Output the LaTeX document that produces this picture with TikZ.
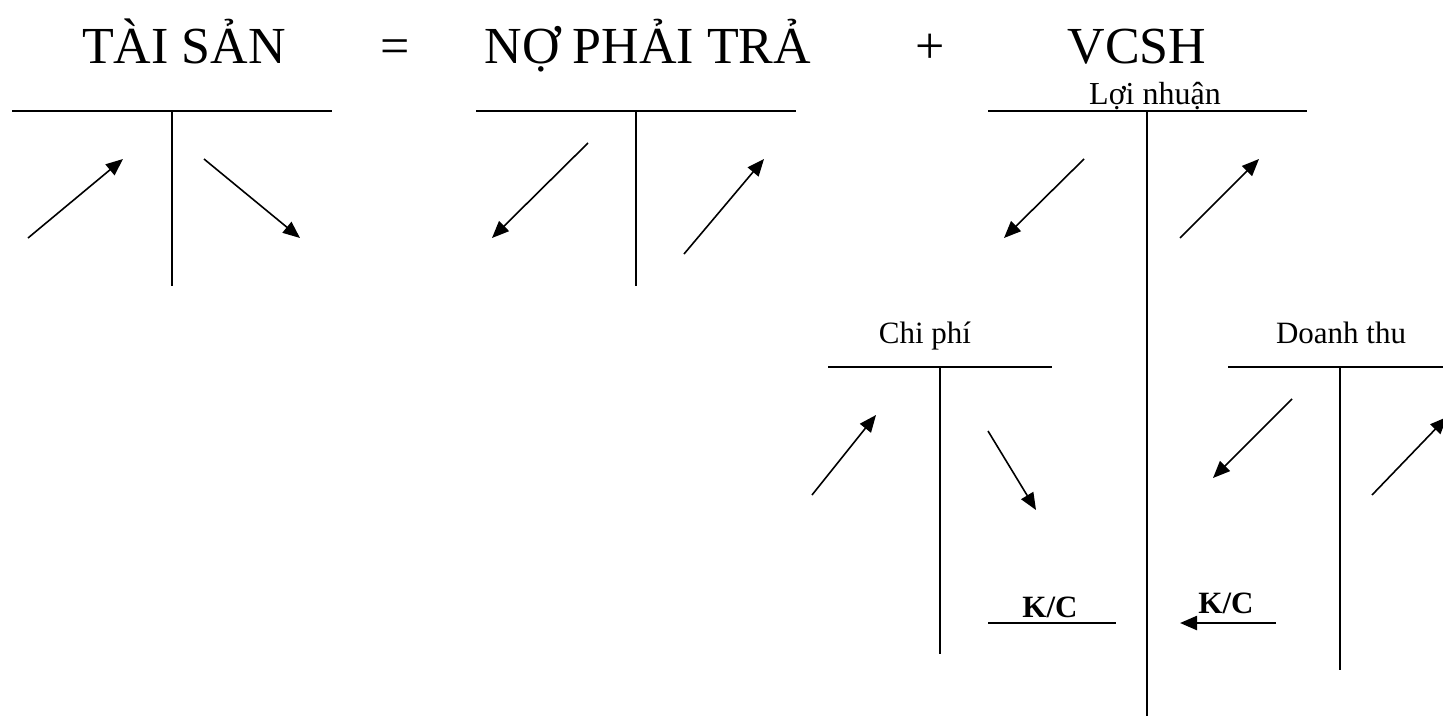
\documentclass[tikz,border=0pt]{standalone}
\usepackage{fontspec}
\setmainfont{Liberation Serif}
\usetikzlibrary{arrows.meta}
\tikzset{
  title/.style={anchor=base, inner sep=0pt, font=\fontsize{52}{60}\selectfont},
  acct/.style={anchor=base, inner sep=0pt, font=\fontsize{31}{36}\selectfont},
  kc/.style={anchor=base, inner sep=0pt, font=\fontsize{31}{36}\selectfont\bfseries},
  tline/.style={line width=2.4pt},
  flow/.style={-{Triangle[length=17pt,width=14pt]}, line width=1.6pt},
}

\begin{document}
\begin{tikzpicture}[x=1pt,y=-1pt]
  \clip (0,0) rectangle (1443,716);
  % equation
  \node[title] (ts) at (184,63) {TÀI SẢN};
  \node[title] (eq) at (395,63) {=};
  \node[title] (npt) at (648,63) {NỢ PHẢI TRẢ};
  \node[title] (plus) at (930,63) {+};
  \node[title] (vcsh) at (1137,63) {VCSH};
  % T accounts
  \foreach \n/\l/\r/\m/\t/\b in {ta/12/332/172/111/286, np/476/796/636/111/286,
      ln/988/1307/1147/111/716, cp/828/1052/940/367/654, dt/1228/1443/1340/367/670}{
    \coordinate (\n-l) at (\l,\t);
    \coordinate (\n-r) at (\r,\t);
    \coordinate (\n-m) at (\m,\t);
    \coordinate (\n-b) at (\m,\b);
    \draw[tline] (\n-l) -- (\n-r);
    \draw[tline] (\n-m) -- (\n-b);
  }
  \node[acct,font=\fontsize{32}{36}\selectfont] (lnlbl) at (1155,104) {Lợi nhuận};
  \node[acct] (cplbl) at (925,343) {Chi phí};
  \node[acct] (dtlbl) at (1341,343) {Doanh thu};
  % movements
  \foreach \i/\sx/\sy/\ex/\ey in {1/28/238/123/159, 2/204/159/300/238,
      3/588/143/492/238, 4/684/254/764/159, 5/1084/159/1004/238,
      6/1180/238/1259/159, 7/812/495/876/415, 8/988/431/1036/510,
      9/1292/399/1213/478, 10/1372/495/1447/417}{
    \coordinate (s\i) at (\sx,\sy);
    \coordinate (e\i) at (\ex,\ey);
    \draw[flow] (s\i) -- (e\i);
  }
  % closing entries
  \coordinate (kc1-l) at (988,623);
  \coordinate (kc1-r) at (1116,623);
  \draw[tline] (kc1-l) -- (kc1-r);
  \node[kc] (kc1) at (1050,617) {K/C};
  \coordinate (kc2-s) at (1276,623);
  \coordinate (kc2-e) at (1180,623);
  \draw[flow,line width=2.4pt] (kc2-s) -- (kc2-e);
  \node[kc] (kc2) at (1226,613) {K/C};
\end{tikzpicture}
\end{document}
